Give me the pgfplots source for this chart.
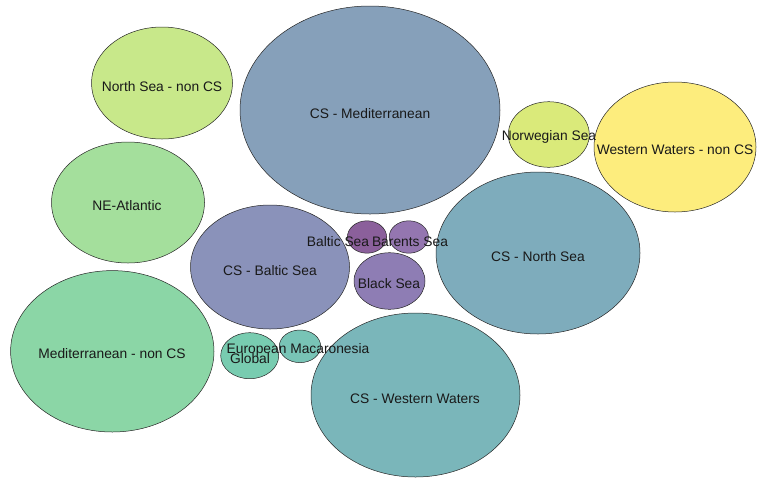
\documentclass[border=0pt]{standalone}
\usepackage{pgfplots}
\usepackage{pgfplotstable}
\pgfplotsset{compat=1.18}
\usepackage{fontspec}
\setmainfont{Liberation Sans}
\definecolor{cMed}{HTML}{86A0BA}
\definecolor{cNSn}{HTML}{C8E88A}
\definecolor{cNEA}{HTML}{A4DF9C}
\definecolor{cMedn}{HTML}{8BD6A6}
\definecolor{cBal}{HTML}{8A92BA}
\definecolor{cNS}{HTML}{7EACBC}
\definecolor{cWW}{HTML}{7AB6BA}
\definecolor{cWWn}{HTML}{FDED7D}
\definecolor{cNor}{HTML}{DAEA7A}
\definecolor{cBlk}{HTML}{8E7DB4}
\definecolor{cBals}{HTML}{8B609B}
\definecolor{cBar}{HTML}{9476B0}
\definecolor{cGlo}{HTML}{78CCB0}
\definecolor{cMac}{HTML}{78C4B6}
\pgfdeclareplotmark{bubble}{%
  \pgfpathellipse{\pgfpointorigin}{\pgfqpoint{\brx pt}{0pt}}{\pgfqpoint{0pt}{\bry pt}}%
  \pgfusepathqfillstroke}
\begin{document}
\pgfplotstableread[col sep=comma]{
x,y,rx,ry,col
370,110,130,104,cMed
162,83,70.5,56,cNSn
128,202.5,76.5,60.5,cNEA
112.3,351.3,101.7,80.7,cMedn
270,267,79.5,62,cBal
538,253,102,81,cNS
415.5,395,104.5,82,cWW
675,147,81,65,cWWn
548.8,134.5,40.5,32.8,cNor
389.5,281,35.5,28.3,cBlk
367,237,19.6,16.2,cBals
408.8,237,19.6,16.2,cBar
249.7,355.7,29,23,cGlo
300,346.3,20.7,16.3,cMac
}\bubbles
\pgfplotstableread[col sep=comma]{
x,y,label
370,113.5,CS - Mediterranean
162,86.5,North Sea - non CS
127,205.5,NE-Atlantic
112,354,Mediterranean - non CS
270,270.5,CS - Baltic Sea
538,256.5,CS - North Sea
415,398.5,CS - Western Waters
675,149.5,Western Waters - non CS
549,136.5,Norwegian Sea
389,283.5,Black Sea
338,241.5,Baltic Sea
410,241.5,Barents Sea
298,350,European Macaronesia
250,358.5,Global
}\labels
\begin{tikzpicture}
\begin{axis}[
  scale only axis, width=757pt, height=480pt,
  xmin=0, xmax=757, ymin=0, ymax=480, y dir=reverse,
  hide axis, clip=false,
]
\addplot[draw=none, mark=none, forget plot] coordinates {(0,0) (757,480)};
\addplot[scatter, only marks, mark=bubble,
  point meta=explicit symbolic,
  mark options={draw=black!85, line width=0.5pt},
  scatter/classes={
    cMed={fill=cMed}, cNSn={fill=cNSn}, cNEA={fill=cNEA}, cMedn={fill=cMedn},
    cBal={fill=cBal}, cNS={fill=cNS}, cWW={fill=cWW}, cWWn={fill=cWWn},
    cNor={fill=cNor}, cBlk={fill=cBlk}, cBals={fill=cBals}, cBar={fill=cBar},
    cGlo={fill=cGlo}, cMac={fill=cMac}},
  visualization depends on={\thisrow{rx}\as\brx},
  visualization depends on={\thisrow{ry}\as\bry},
] table[x=x, y=y, meta=col] {\bubbles};
\addplot[draw=none, mark=none,
  point meta=explicit symbolic,
  nodes near coords,
  every node near coord/.append style={anchor=center, inner sep=0pt,
    font=\fontsize{13.8}{16}\selectfont, text=black!90},
] table[x=x, y=y, meta=label] {\labels};
\end{axis}
\path (current axis.south west) rectangle (current axis.north east);
\end{tikzpicture}
\end{document}
